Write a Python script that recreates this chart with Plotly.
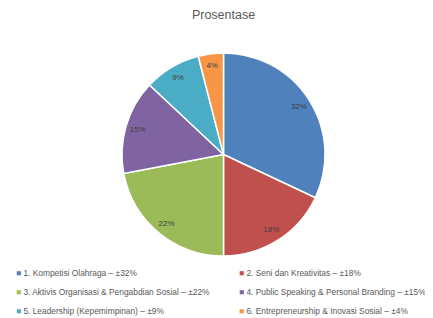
import plotly.graph_objects as go

labels = [
    "1. Kompetisi Olahraga – ±32%",
    "2. Seni dan Kreativitas – ±18%",
    "3. Aktivis Organisasi & Pengabdian Sosial – ±22%",
    "4. Public Speaking & Personal Branding – ±15%",
    "5. Leadership (Kepemimpinan) – ±9%",
    "6. Entrepreneurship & Inovasi Sosial – ±4%",
]
values = [32, 18, 22, 15, 9, 4]
colors = ["#4F81BD", "#C0504D", "#9BBB59", "#8064A2", "#4BACC6", "#F79646"]
title_text = "Prosentase"

# the page body has an 8px margin, so the figure is drawn 8px smaller
W, H = 425, 310
OFF = 8


def fx(px):
    return (px - OFF) / W


def fy(py):
    return 1 - (py - OFF) / H


pie_domain = dict(x=[fx(122), fx(325)], y=[fy(256), fy(53)])

fig = go.Figure()
# coloured slices
fig.add_trace(go.Pie(
    labels=labels,
    values=values,
    sort=False,
    direction="clockwise",
    rotation=0,
    marker=dict(colors=colors, line=dict(color="white", width=1.5)),
    textinfo="none",
    domain=pie_domain,
    hoverinfo="label+percent",
    showlegend=False,
))
# percentage labels placed near the outer edge (ring of the same pie)
fig.add_trace(go.Pie(
    labels=labels,
    values=values,
    sort=False,
    direction="clockwise",
    rotation=0,
    hole=0.76,
    marker=dict(colors=["rgba(0,0,0,0)"] * len(values), line=dict(width=0)),
    texttemplate="%{value}%",
    textposition="inside",
    insidetextorientation="horizontal",
    textfont=dict(family="Liberation Sans", size=8, color="#404040"),
    domain=pie_domain,
    hoverinfo="skip",
    showlegend=False,
))

# legend: two columns (odd entries left, even entries right)
for i, (lab, col) in enumerate(zip(labels, colors)):
    fig.add_trace(go.Scatter(
        x=[None], y=[None], mode="markers",
        name=f"<span style='color:{col}'>■</span> {lab}",
        marker=dict(symbol="square", size=5, color="rgba(0,0,0,0)"),
        legend="legend" if i % 2 == 0 else "legend2",
        showlegend=True, hoverinfo="skip",
    ))

leg_common = dict(
    orientation="v",
    yanchor="top",
    font=dict(family="Liberation Sans", size=8.4, color="#595959"),
    itemwidth=30,
    traceorder="normal",
    bgcolor="rgba(0,0,0,0)",
    borderwidth=0,
)

fig.update_layout(
    width=W, height=H,
    margin=dict(l=0, r=0, t=0, b=0, autoexpand=False),
    paper_bgcolor="white",
    plot_bgcolor="white",
    xaxis=dict(visible=False),
    yaxis=dict(visible=False),
    title=dict(text=title_text, x=fx(223.5), xanchor="center", xref="container",
               y=fy(15), yanchor="middle", yref="container",
               font=dict(family="Liberation Sans", size=12.5, color="#595959")),
    showlegend=True,
    legend=dict(x=fx(-24), xanchor="left", y=fy(258), **leg_common),
    legend2=dict(x=fx(199), xanchor="left", y=fy(258), **leg_common),
)

fig.write_html("out.html")
